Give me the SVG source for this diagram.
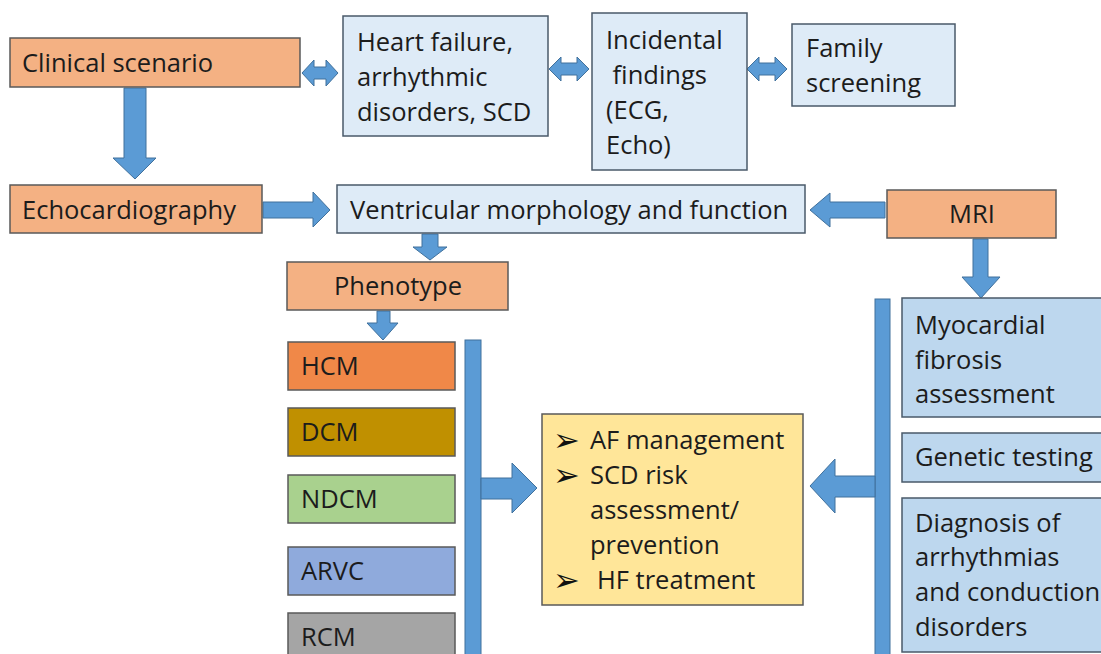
<svg xmlns="http://www.w3.org/2000/svg" width="1101" height="654" viewBox="0 0 1101 654">
<style>
text{font-family:"Open Sans","Noto Sans","Liberation Sans",sans-serif;font-size:25.5px;fill:#1c1c1c}
.or{fill:#F4B183;stroke:#5a5a5a;stroke-width:1.5}
.lb{fill:#DEEBF7;stroke:#4a5a6a;stroke-width:1.5}
.mb{fill:#BDD7EE;stroke:#4a5a6a;stroke-width:1.5}
.ar{fill:#5B9BD5;stroke:#41719C;stroke-width:1}
.bul{font-family:"DejaVu Sans",sans-serif;font-size:32px;fill:#111}
.c{text-anchor:middle}
</style>
<rect width="1101" height="654" fill="#ffffff"/>
<g id="connectors">
<polygon class="ar" points="302,73 314,60 314,67 326,67 326,60 338,73 326,86 326,79 314,79 314,86"/>
<polygon class="ar" points="549,69 561,57 561,63 577,63 577,57 589,69 577,81 577,75 561,75 561,81"/>
<polygon class="ar" points="747,69 759,57 759,63 775,63 775,57 787,69 775,81 775,75 759,75 759,81"/>
<polygon class="ar" points="124,88 146,88 146,158 156,158 135,179 113,158 124,158"/>
<polygon class="ar" points="263,202 313,202 313,192 330,210 313,227 313,218 263,218"/>
<polygon class="ar" points="885,202 830,202 830,193 810,210 830,227 830,218 885,218"/>
<polygon class="ar" points="422,234 438,234 438,247 447,247 430,260 413,247 422,247"/>
<polygon class="ar" points="377,311 390,311 390,323 398,323 383,340 367,323 377,323"/>
<polygon class="ar" points="973,239 988,239 988,277 1000,277 981,298 962,277 973,277"/>
<rect class="ar" x="465" y="340" width="16" height="320"/>
<rect class="ar" x="875" y="299" width="15" height="360"/>
<polygon class="ar" points="481,478 512,478 512,463 537,488 512,513 512,499 481,499"/>
<polygon class="ar" points="875,476 835,476 835,459 810,486 835,513 835,497 875,497"/>
</g>
<g id="clinical"><rect class="or" x="10" y="38" width="290" height="49"/><text x="22" y="72">Clinical scenario</text></g>
<g id="hf"><rect class="lb" x="343" y="16" width="205" height="120"/><text x="357" y="51">Heart failure,</text><text x="357" y="86">arrhythmic</text><text x="357" y="121">disorders, SCD</text></g>
<g id="incidental"><rect class="lb" x="592" y="13" width="155" height="157"/><text x="606" y="49">Incidental</text><text x="606" y="84" xml:space="preserve"> findings</text><text x="606" y="119">(ECG,</text><text x="606" y="154">Echo)</text></g>
<g id="family"><rect class="lb" x="792" y="24" width="163" height="82"/><text x="806" y="57">Family</text><text x="806" y="92">screening</text></g>
<g id="echo"><rect class="or" x="10" y="185" width="252" height="48"/><text x="22" y="219">Echocardiography</text></g>
<g id="ventricular"><rect class="lb" x="337" y="185" width="468" height="48"/><text x="350" y="219">Ventricular morphology and function</text></g>
<g id="mri"><rect class="or" x="887" y="190" width="169" height="48"/><text class="c" x="972" y="223">MRI</text></g>
<g id="phenotype"><rect class="or" x="287" y="262" width="221" height="48"/><text class="c" x="398" y="295">Phenotype</text></g>
<g id="hcm"><rect x="288" y="342" width="167" height="48" fill="#F08848" stroke="#5a5a5a" stroke-width="1.5"/><text x="301" y="375">HCM</text></g>
<g id="dcm"><rect x="288" y="408" width="167" height="48" fill="#C09000" stroke="#5a5a5a" stroke-width="1.5"/><text x="301" y="441">DCM</text></g>
<g id="ndcm"><rect x="288" y="475" width="167" height="48" fill="#A9D18E" stroke="#5a5a5a" stroke-width="1.5"/><text x="301" y="508">NDCM</text></g>
<g id="arvc"><rect x="288" y="547" width="167" height="48" fill="#8FAADC" stroke="#5a5a5a" stroke-width="1.5"/><text x="301" y="580">ARVC</text></g>
<g id="rcm"><rect x="288" y="613" width="167" height="50" fill="#A5A5A5" stroke="#5a5a5a" stroke-width="1.5"/><text x="301" y="646">RCM</text></g>
<g id="management"><rect x="542" y="414" width="261" height="191" fill="#FFE699" stroke="#5a5a5a" stroke-width="1.5"/>
<text class="bul" x="553" y="451">➢</text><text x="590" y="449">AF management</text>
<text class="bul" x="553" y="486">➢</text><text x="590" y="484">SCD risk</text>
<text x="590" y="519">assessment/</text>
<text x="590" y="554">prevention</text>
<text class="bul" x="553" y="591">➢</text><text x="597" y="589">HF treatment</text></g>
<g id="fibrosis"><rect class="mb" x="902" y="298" width="210" height="119"/><text x="915" y="334">Myocardial</text><text x="915" y="369">fibrosis</text><text x="915" y="403">assessment</text></g>
<g id="genetic"><rect class="mb" x="902" y="433" width="210" height="49"/><text x="915" y="466">Genetic testing</text></g>
<g id="diagnosis"><rect class="mb" x="902" y="498" width="210" height="154"/><text x="915" y="532">Diagnosis of</text><text x="915" y="566">arrhythmias</text><text x="915" y="601">and conduction</text><text x="915" y="636">disorders</text></g>
</svg>
